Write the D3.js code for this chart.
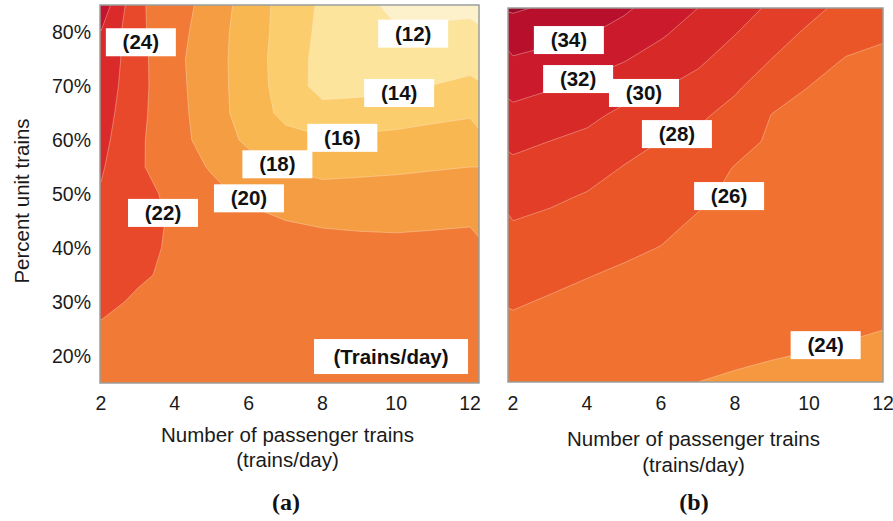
<!DOCTYPE html>
<html>
<head>
<meta charset="utf-8">
<script src="https://cdn.jsdelivr.net/npm/d3@7"></script>
<style>
  body { margin: 0; background: #fff; }
  svg { display: block; font-family: "Liberation Sans", Arial, sans-serif; }
</style>
</head>
<body>
<svg id="chart" width="893" height="521"></svg>
<script>
// Sample positions of the surfaces: passenger trains per day (columns) and
// percent unit trains (rows, top row first).
const trainsPerDay = [2, 3, 4, 5, 6, 7, 8, 9, 10, 11, 12];
const pctUnitTrains = [85, 80, 75, 70, 65, 60, 55, 50, 45, 40, 35, 30, 25, 20, 15];
const xTickValues = [2, 4, 6, 8, 10, 12];
const yTickValues = [20, 30, 40, 50, 60, 70, 80];

// (a) trains/day surface
const surfaceA = [
  [27.3, 22.3, 20.9, 19.19, 17.09, 15.28, 13.67, 12.46, 11.6, 11.65, 11.75],
  [25.95, 22.4, 20.72, 18.89, 17.03, 15.21, 13.52, 12.23, 12.15, 12.2, 12.25],
  [25.6, 22.61, 20.5, 18.76, 17.04, 15.0, 13.4, 12.6, 12.54, 12.77, 13.11],
  [25.25, 22.6, 20.59, 18.8, 17.05, 15.11, 13.3, 13.4, 13.58, 14.05, 14.56],
  [24.9, 22.48, 20.68, 18.89, 17.07, 15.5, 14.68, 14.82, 15.09, 15.51, 15.78],
  [24.56, 22.32, 20.73, 19.14, 17.6, 16.63, 16.22, 16.4, 16.57, 16.74, 16.9],
  [24.2, 22.25, 20.97, 19.82, 18.83, 17.9, 17.46, 17.6, 17.72, 17.87, 18.0],
  [23.84, 22.63, 21.52, 20.51, 19.56, 18.95, 18.62, 18.65, 18.69, 18.79, 18.9],
  [23.45, 22.57, 21.79, 21.2, 20.6, 20.02, 19.71, 19.63, 19.6, 19.7, 19.8],
  [23.05, 22.44, 21.75, 21.5, 21.3, 21.0, 20.83, 20.6, 20.51, 20.58, 20.71],
  [22.66, 22.14, 21.8, 21.6, 21.4, 21.3, 21.2, 21.1, 21.0, 21.0, 21.1],
  [22.26, 21.85, 21.7, 21.6, 21.5, 21.4, 21.3, 21.3, 21.2, 21.2, 21.2],
  [21.87, 21.8, 21.65, 21.55, 21.45, 21.4, 21.35, 21.3, 21.25, 21.2, 21.2],
  [21.7, 21.7, 21.6, 21.5, 21.45, 21.4, 21.35, 21.3, 21.25, 21.2, 21.2],
  [21.6, 21.6, 21.55, 21.5, 21.45, 21.4, 21.35, 21.3, 21.25, 21.2, 21.2]
];
const levelsA = [12, 14, 16, 18, 20, 22, 24, 26];

// (b) surface
const surfaceB = [
  [36.25, 35.72, 35.34, 34.33, 33.09, 32.0, 30.88, 29.67, 28.56, 27.45, 26.92],
  [34.99, 34.52, 34.09, 33.19, 32.19, 31.13, 30.01, 28.79, 27.63, 26.64, 26.12],
  [33.74, 33.29, 32.76, 32.03, 31.14, 30.26, 29.14, 27.9, 26.71, 25.85, 25.75],
  [32.58, 32.09, 31.51, 30.72, 30.07, 29.34, 28.24, 26.87, 25.95, 25.77, 25.69],
  [31.48, 31.02, 30.46, 29.58, 29.01, 28.36, 27.35, 25.96, 25.75, 25.59, 25.5],
  [30.45, 29.98, 29.52, 28.68, 27.97, 27.54, 26.6, 25.75, 25.56, 25.4, 25.32],
  [29.54, 29.16, 28.68, 27.9, 27.44, 26.89, 25.91, 25.52, 25.36, 25.21, 25.13],
  [28.75, 28.35, 27.9, 27.36, 26.92, 26.31, 25.66, 25.32, 25.16, 25.03, 24.94],
  [27.97, 27.64, 27.28, 26.82, 26.42, 25.83, 25.4, 25.11, 24.96, 24.84, 24.76],
  [27.37, 27.03, 26.67, 26.27, 25.95, 25.52, 25.15, 24.89, 24.76, 24.65, 24.57],
  [26.77, 26.42, 26.06, 25.77, 25.55, 25.22, 24.9, 24.68, 24.56, 24.46, 24.38],
  [26.18, 25.84, 25.57, 25.38, 25.21, 24.92, 24.64, 24.47, 24.37, 24.28, 24.19],
  [25.6, 25.38, 25.21, 24.99, 24.86, 24.62, 24.39, 24.25, 24.17, 24.09, 24.01],
  [25.09, 24.99, 24.87, 24.68, 24.52, 24.31, 24.14, 24.04, 23.97, 23.9, 23.83],
  [24.69, 24.59, 24.48, 24.33, 24.17, 24.0, 23.89, 23.82, 23.77, 23.71, 23.64]
];
const levelsB = [24, 26, 28, 30, 32, 34, 36];

// Band fills, lowest band first
const coloursA = ["#fdf1cc", "#fce49c", "#fbcd6c", "#f9b752", "#f59d42", "#f07a36",
                  "#e9492b", "#da2b2a", "#c4142e"];
const coloursB = ["#f6983f", "#f17230", "#eb5629", "#e23e28", "#d72a28", "#ca1a2b",
                  "#b80f2d", "#9c0a2b"];

const svg = d3.select("#chart");

const panels = [
  {
    key: "a",
    frame: { x0: 100, x1: 479, y0: 5, y1: 383 },
    x: d3.scaleLinear([2, 12], [101, 470]),
    y: d3.scaleLinear([15, 85], [383, 5]),
    surface: surfaceA, levels: levelsA, colours: coloursA,
    // label anchors in chart units (trains/day, % unit trains)
    labels: [
      { text: "(24)", at: [3.08, 78.1] },
      { text: "(12)", at: [10.46, 79.7] },
      { text: "(14)", at: [10.08, 68.7] },
      { text: "(16)", at: [8.54, 60.4] },
      { text: "(18)", at: [6.78, 55.5] },
      { text: "(20)", at: [6.01, 49.2] },
      { text: "(22)", at: [3.68, 46.5] },
      { text: "(Trains/day)", at: [9.86, 19.9], wide: true }
    ],
    showY: true,
    titleY: [442, 467],
    tag: "(a)", tagX: 286
  },
  {
    key: "b",
    frame: { x0: 508, x1: 883, y0: 8, y1: 382 },
    x: d3.scaleLinear([2, 12], [513, 883]),
    y: d3.scaleLinear([15, 85], [382, 8]),
    surface: surfaceB, levels: levelsB, colours: coloursB,
    labels: [
      { text: "(34)", at: [3.51, 79.0] },
      { text: "(32)", at: [3.76, 71.7] },
      { text: "(30)", at: [5.54, 69.1] },
      { text: "(28)", at: [6.43, 61.4] },
      { text: "(26)", at: [7.84, 49.8] },
      { text: "(24)", at: [10.45, 21.9] }
    ],
    showY: false,
    titleY: [446, 472],
    tag: "(b)", tagX: 694
  }
];

const defs = svg.append("defs");

panels.forEach(p => {
  const { frame, x, y } = p;
  const n = trainsPerDay.length, m = pctUnitTrains.length;
  const dx = trainsPerDay[1] - trainsPerDay[0];
  const dy = pctUnitTrains[0] - pctUnitTrains[1];

  // grid coordinates from d3.contours -> chart units -> pixels
  const toScreen = d3.geoTransform({
    point(c, r) {
      this.stream.point(
        x(trainsPerDay[0] + (c - 0.5) * dx),
        y(pctUnitTrains[0] - (r - 0.5) * dy)
      );
    }
  });
  const path = d3.geoPath(toScreen);

  const bands = d3.contours()
    .size([n, m])
    .thresholds(p.levels)(p.surface.flat());

  defs.append("clipPath").attr("id", "clip-" + p.key)
    .append("rect")
    .attr("x", frame.x0).attr("y", frame.y0)
    .attr("width", frame.x1 - frame.x0).attr("height", frame.y1 - frame.y0);

  const g = svg.append("g").attr("clip-path", `url(#clip-${p.key})`);
  g.append("rect")
    .attr("x", frame.x0).attr("y", frame.y0)
    .attr("width", frame.x1 - frame.x0).attr("height", frame.y1 - frame.y0)
    .attr("fill", p.colours[0]);

  g.selectAll("path.band")
    .data(bands)
    .join("path")
    .attr("class", "band")
    .attr("d", path)
    .attr("fill", (d, i) => p.colours[i + 1])
    .attr("stroke", "rgba(255,235,215,0.45)")
    .attr("stroke-width", 0.8);

  // frame
  svg.append("rect")
    .attr("x", frame.x0).attr("y", frame.y0)
    .attr("width", frame.x1 - frame.x0).attr("height", frame.y1 - frame.y0)
    .attr("fill", "none")
    .attr("stroke", "#9a9e9c")
    .attr("stroke-width", 1.5);

  // value labels
  const lab = svg.append("g");
  p.labels.forEach(l => {
    const cx = x(l.at[0]), cy = y(l.at[1]);
    const w = l.wide ? 154 : 70, h = l.wide ? 35 : 28;
    lab.append("rect")
      .attr("x", cx - w / 2).attr("y", cy - h / 2)
      .attr("width", w).attr("height", h)
      .attr("fill", "#fff");
    lab.append("text")
      .attr("x", cx).attr("y", cy + 7)
      .attr("text-anchor", "middle")
      .attr("font-weight", "bold")
      .attr("font-size", 20.5)
      .attr("fill", "#111")
      .text(l.text);
  });

  // x tick labels
  svg.append("g").selectAll("text")
    .data(xTickValues)
    .join("text")
    .attr("x", d => x(d))
    .attr("y", 410)
    .attr("text-anchor", "middle")
    .attr("font-size", 19.5)
    .attr("fill", "#1a1a1a")
    .text(d => d);

  // x title
  const cxTitle = (frame.x0 + frame.x1) / 2 - 2;
  svg.append("text")
    .attr("x", cxTitle).attr("y", p.titleY[0])
    .attr("text-anchor", "middle")
    .attr("font-size", 20.5)
    .attr("fill", "#1a1a1a")
    .text("Number of passenger trains");
  svg.append("text")
    .attr("x", cxTitle).attr("y", p.titleY[1])
    .attr("text-anchor", "middle")
    .attr("font-size", 20.5)
    .attr("fill", "#1a1a1a")
    .text("(trains/day)");

  // panel tag
  svg.append("text")
    .attr("x", p.tagX).attr("y", 510)
    .attr("text-anchor", "middle")
    .attr("font-family", "'Liberation Serif', 'Times New Roman', serif")
    .attr("font-weight", "bold")
    .attr("font-size", 24)
    .attr("fill", "#111")
    .text(p.tag);

  if (p.showY) {
    svg.append("g").selectAll("text")
      .data(yTickValues)
      .join("text")
      .attr("x", 91)
      .attr("y", d => y(d) + 7)
      .attr("text-anchor", "end")
      .attr("font-size", 19.5)
      .attr("fill", "#1a1a1a")
      .text(d => d + "%");
    svg.append("text")
      .attr("transform", `translate(29,${(frame.y0 + frame.y1) / 2 + 7}) rotate(-90)`)
      .attr("text-anchor", "middle")
      .attr("font-size", 20.5)
      .attr("fill", "#1a1a1a")
      .text("Percent unit trains");
  }
});
</script>
</body>
</html>
